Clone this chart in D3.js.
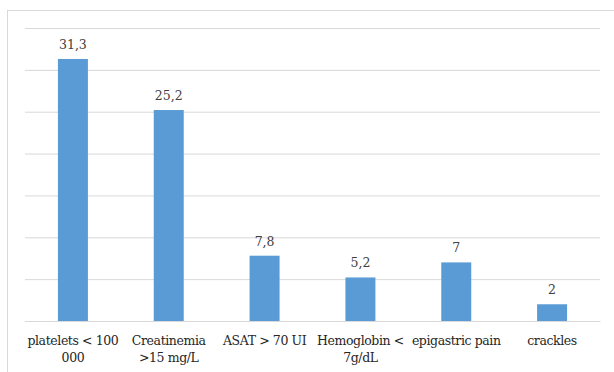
<!DOCTYPE html>
<html>
<head>
<meta charset="utf-8">
<script src="https://cdn.jsdelivr.net/npm/d3@7/dist/d3.min.js"></script>
<style>
  html, body { margin: 0; padding: 0; background: #ffffff; }
  svg { display: block; }
</style>
</head>
<body>
<svg id="chart" width="614" height="372"></svg>
<script>
// Category labels (line breaks where the axis wraps them)
const categories = [
  "platelets < 100\n000",
  "Creatinemia\n>15 mg/L",
  "ASAT > 70 UI",
  "Hemoglobin <\n7g/dL",
  "epigastric pain",
  "crackles"
];
// Percentages per category
const values = [31.3, 25.2, 7.8, 5.2, 7, 2];
// Value axis gridline ticks
const yTicks = [0, 5, 10, 15, 20, 25, 30, 35];

const FONT = "'DejaVu Serif', 'Noto Serif', serif";
const svg = d3.select("#chart");
const W = 614, H = 372;
const plot = { left: 25, right: 600, top: 28, bottom: 321 };

// Chart area border
svg.append("rect")
  .attr("x", 7.5).attr("y", 10.5)
  .attr("width", W).attr("height", H)
  .attr("fill", "#ffffff")
  .attr("stroke", "#d9d9d9")
  .attr("stroke-width", 1);

const x = d3.scaleBand()
  .domain(categories)
  .range([plot.left, plot.right])
  .paddingInner(0.687)
  .paddingOuter(0.687 / 2);

const y = d3.scaleLinear()
  .domain([0, 35])
  .range([plot.bottom, plot.top]);

// Horizontal gridlines
const grid = svg.append("g")
  .attr("transform", `translate(${plot.left},0)`)
  .call(d3.axisLeft(y).tickValues(yTicks)
    .tickSize(-(plot.right - plot.left)).tickFormat(""));
grid.select(".domain").remove();
grid.selectAll(".tick line")
  .attr("stroke", "#d9d9d9")
  .attr("stroke-width", 1);

// Bars
svg.append("g").selectAll("rect")
  .data(values)
  .join("rect")
  .attr("x", (d, i) => x(categories[i]))
  .attr("y", d => y(d))
  .attr("width", x.bandwidth())
  .attr("height", d => y(0) - y(d))
  .attr("fill", "#5b9bd5");

// Value labels with decimal comma
const fmt = d3.formatLocale({ decimal: ",", thousands: " ", grouping: [3], currency: ["", ""] }).format(".1~f");
svg.append("g").selectAll("text")
  .data(values)
  .join("text")
  .attr("x", (d, i) => x(categories[i]) + x.bandwidth() / 2)
  .attr("y", d => y(d) - 10)
  .attr("text-anchor", "middle")
  .attr("font-family", FONT)
  .attr("font-size", 12.5)
  .attr("fill", "#404040")
  .text(d => fmt(d));

// Category axis line
const xAxis = svg.append("g")
  .attr("transform", `translate(0,${plot.bottom})`)
  .call(d3.axisBottom(x).tickSize(0).tickFormat(""));
xAxis.select(".domain").attr("stroke", "#d9d9d9");

// Category labels, wrapped onto two lines where needed
const labels = svg.append("g").selectAll("text")
  .data(categories)
  .join("text")
  .attr("x", d => x(d) + x.bandwidth() / 2)
  .attr("y", plot.bottom + 24)
  .attr("text-anchor", "middle")
  .attr("font-family", FONT)
  .attr("font-size", 12.5)
  .attr("letter-spacing", -0.4)
  .attr("fill", "#262626");
labels.each(function(d) {
  const t = d3.select(this);
  d.split("\n").forEach((line, k) => {
    t.append("tspan")
      .attr("x", x(d) + x.bandwidth() / 2)
      .attr("dy", k === 0 ? 0 : 17)
      .text(line);
  });
});
</script>
</body>
</html>
